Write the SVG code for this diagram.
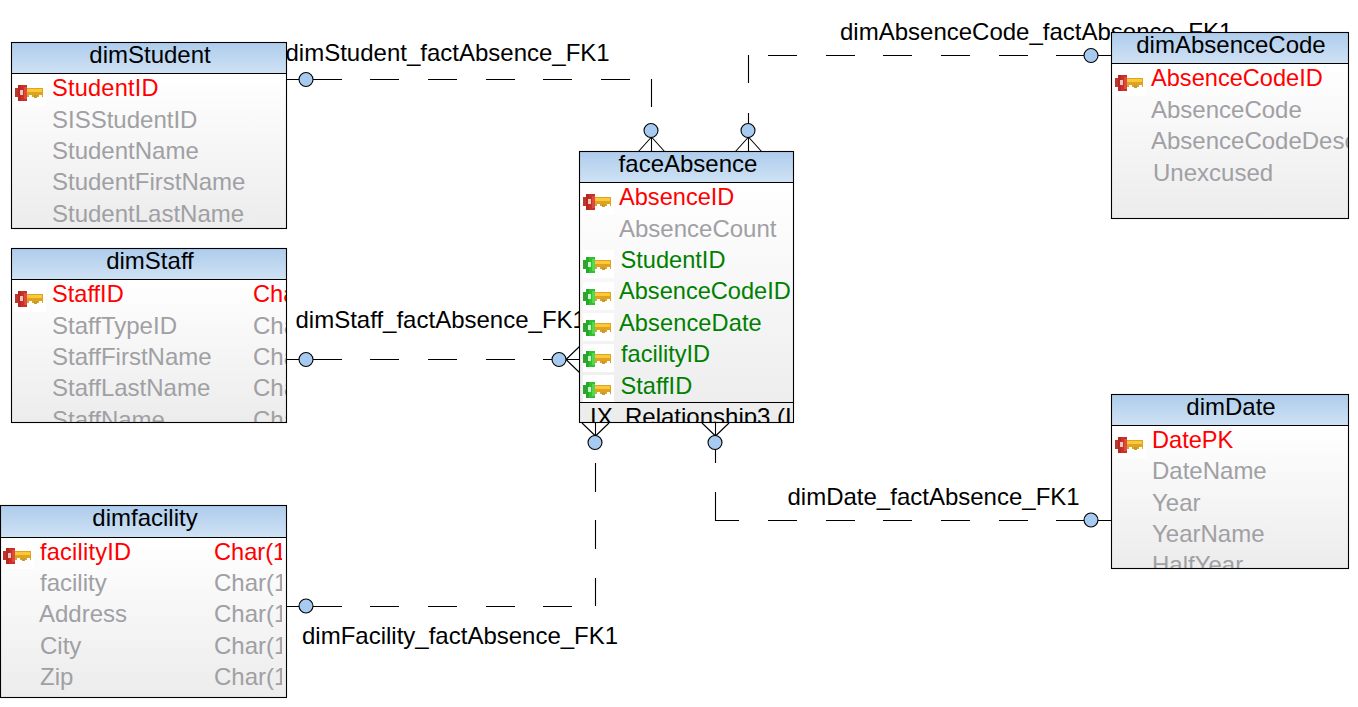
<svg xmlns="http://www.w3.org/2000/svg" width="1358" height="707" viewBox="0 0 1358 707">
<style>
text{font-family:"Liberation Sans",Arial,sans-serif;font-size:24px}
.box{fill:none;stroke:#000;stroke-width:1.1}
.sep{stroke:#000;stroke-width:1.1;fill:none}
.head{fill:url(#hg)}
.body{fill:url(#bg)}
.t{text-anchor:middle;fill:#000}
.pk{fill:#ff0000;font-size:23.6px}
.f{fill:#a0a0a4}
.fk{fill:#008000;font-size:23.6px}
.lbl{fill:#000}
.ln{stroke:#000;stroke-width:1.1;fill:none}
.dot{fill:#a6caf0;stroke:#000;stroke-width:1.1}
</style>
<defs>
<linearGradient id="hg" x1="0" y1="0" x2="0" y2="1"><stop offset="0" stop-color="#adccec"/><stop offset="1" stop-color="#d0e2f4"/></linearGradient>
<linearGradient id="bg" x1="0" y1="0" x2="0" y2="1"><stop offset="0" stop-color="#ffffff"/><stop offset="1" stop-color="#ececec"/></linearGradient>
<g id="shaft" shape-rendering="crispEdges">
<rect x="11" y="10" width="17" height="9" fill="#dca420"/><rect x="12" y="11" width="15" height="3" fill="#fcc838"/><rect x="14" y="17" width="3" height="2" fill="#fff"/><rect x="19" y="17" width="3" height="3" fill="#c89a30"/><rect x="24" y="17" width="3" height="2" fill="#fff"/>
</g>
<symbol id="keyR" width="31" height="28" viewBox="0 0 31 28" overflow="visible">
<rect width="31" height="28" fill="#fff"/><use href="#shaft"/>
<g shape-rendering="crispEdges"><rect x="0" y="10" width="3" height="9" fill="#b83830"/><rect x="3" y="7" width="3" height="16" fill="#b82820"/><rect x="6" y="7" width="6" height="16" fill="#c83028"/><rect x="5" y="12" width="3" height="5" fill="#e8c8c0"/><rect x="9" y="9" width="3" height="12" fill="#e04840"/></g>
</symbol>
<symbol id="keyG" width="31" height="28" viewBox="0 0 31 28" overflow="visible">
<rect width="31" height="28" fill="#fff"/><use href="#shaft"/>
<g shape-rendering="crispEdges"><rect x="0" y="10" width="3" height="9" fill="#30a030"/><rect x="3" y="7" width="3" height="16" fill="#28a828"/><rect x="6" y="7" width="6" height="16" fill="#30c030"/><rect x="5" y="12" width="3" height="5" fill="#d0f0d0"/><rect x="9" y="9" width="3" height="12" fill="#50d850"/></g>
</symbol>
<clipPath id="cStudent"><rect x="12" y="74" width="274" height="154"/></clipPath>
<clipPath id="cStaff"><rect x="12" y="280" width="274" height="142"/></clipPath>
<clipPath id="cFac"><rect x="1" y="538" width="281" height="159"/></clipPath>
<clipPath id="cFace"><rect x="580" y="183" width="213" height="239"/></clipPath>
<clipPath id="cCode"><rect x="1112" y="65" width="236" height="153"/></clipPath>
<clipPath id="cDate"><rect x="1112" y="426" width="236" height="142"/></clipPath>
</defs>
<rect width="1358" height="707" fill="#fff"/>
<g id="connectors">
<path class="ln" d="M287 79.5H342M370 79.5H399M428 79.5H457M486 79.5H515M543 79.5H572M601 79.5H630M651.5 79V107M651.5 124V152M651.5 137L638 152M651.5 137L665 152"/>
<circle class="dot" cx="306" cy="79.5" r="7"/><circle class="dot" cx="651" cy="130.5" r="7"/>
<path class="ln" d="M1112 55.5H1056M1028 55.5H999M970 55.5H941M912 55.5H883M855 55.5H826M797 55.5H768M748.5 55V83M748.5 113V152M748.5 137L735 152M748.5 137L762 152"/>
<circle class="dot" cx="1091" cy="55.5" r="7"/><circle class="dot" cx="748" cy="130.5" r="7"/>
<path class="ln" d="M287 359.5H342M370 359.5H399M428 359.5H457M486 359.5H515M543 359.5H580M566 359.5L580 346M566 359.5L580 373"/>
<circle class="dot" cx="306" cy="359.5" r="7"/><circle class="dot" cx="559" cy="359.5" r="7"/>
<path class="ln" d="M287 606.5H342M370 606.5H399M428 606.5H457M486 606.5H515M543 606.5H572M595.5 606V578M595.5 549V520M595.5 492V463M595.5 423V436M595.5 436L582 423M595.5 436L609 423"/>
<circle class="dot" cx="306" cy="606" r="7"/><circle class="dot" cx="595" cy="442.5" r="7"/>
<path class="ln" d="M715.5 423V463M715.5 492V520.5H739M768 520.5H797M826 520.5H855M883 520.5H912M941 520.5H970M999 520.5H1028M1056 520.5H1112M715.5 436L702 423M715.5 436L729 423"/>
<circle class="dot" cx="1091" cy="520" r="7"/><circle class="dot" cx="715" cy="442.5" r="7"/>
<text class="lbl" x="285.5" y="61">dimStudent_factAbsence_FK1</text>
<text class="lbl" x="840" y="40">dimAbsenceCode_factAbsence_FK1</text>
<text class="lbl" x="295.5" y="328">dimStaff_factAbsence_FK1</text>
<text class="lbl" x="302" y="644">dimFacility_factAbsence_FK1</text>
<text class="lbl" x="787.5" y="505">dimDate_factAbsence_FK1</text>
</g>
<g id="dimStudent">
<rect class="body" x="11.5" y="73.5" width="275" height="155"/>
<rect class="head" x="11.5" y="42.5" width="275" height="31"/>
<use href="#keyR" x="15" y="78"/>
<g clip-path="url(#cStudent)">
<text class="pk" x="52" y="96" letter-spacing="0.2">StudentID</text>
<text class="f" x="52" y="128">SISStudentID</text>
<text class="f" x="52" y="159">StudentName</text>
<text class="f" x="52" y="190">StudentFirstName</text>
<text class="f" x="52" y="222">StudentLastName</text>
</g>
<text class="t" x="150" y="63">dimStudent</text>
<path class="sep" d="M11.5 73.5H286.5"/><rect class="box" x="11.5" y="42.5" width="275" height="186"/>
</g>
<g id="dimStaff">
<rect class="body" x="11.5" y="279.5" width="275" height="143"/>
<rect class="head" x="11.5" y="248.5" width="275" height="31"/>
<use href="#keyR" x="15" y="284"/>
<g clip-path="url(#cStaff)">
<text class="pk" x="52" y="302">StaffID</text><text class="pk" x="253" y="302">Char</text>
<text class="f" x="52" y="334">StaffTypeID</text><text class="f" x="253" y="334">Char</text>
<text class="f" x="52" y="365">StaffFirstName</text><text class="f" x="253" y="365">Char</text>
<text class="f" x="52" y="396">StaffLastName</text><text class="f" x="253" y="396">Char</text>
<text class="f" x="52" y="428">StaffName</text><text class="f" x="253" y="428">Char</text>
</g>
<text class="t" x="150" y="269">dimStaff</text>
<path class="sep" d="M11.5 279.5H286.5"/><rect class="box" x="11.5" y="248.5" width="275" height="174"/>
</g>
<g id="dimfacility">
<rect class="body" x="0.5" y="537.5" width="286" height="160"/>
<rect class="head" x="0.5" y="505.5" width="286" height="32"/>
<use href="#keyR" x="3" y="541"/>
<g clip-path="url(#cFac)">
<text class="pk" x="40" y="560" letter-spacing="0.2">facilityID</text><text class="pk" x="214" y="560">Char(10)</text>
<text class="f" x="40" y="591">facility</text><text class="f" x="214" y="591">Char(10)</text>
<text class="f" x="39" y="622">Address</text><text class="f" x="214" y="622">Char(10)</text>
<text class="f" x="40" y="654">City</text><text class="f" x="214" y="654">Char(10)</text>
<text class="f" x="40" y="685">Zip</text><text class="f" x="214" y="685">Char(10)</text>
</g>
<text class="t" x="145" y="526">dimfacility</text>
<path class="sep" d="M0.5 537.5H286.5"/><rect class="box" x="0.5" y="505.5" width="286" height="192"/>
</g>
<g id="faceAbsence">
<rect class="body" x="579.5" y="182.5" width="214" height="240"/>
<rect class="head" x="579.5" y="151.5" width="214" height="31"/>
<use href="#keyR" x="583" y="187"/>
<use href="#keyG" x="583" y="250"/>
<use href="#keyG" x="583" y="282"/>
<use href="#keyG" x="583" y="313"/>
<use href="#keyG" x="583" y="344"/>
<use href="#keyG" x="583" y="375"/>
<g clip-path="url(#cFace)">
<text class="pk" x="619" y="205">AbsenceID</text>
<text class="f" x="619" y="237">AbsenceCount</text>
<text class="fk" x="620.5" y="268">StudentID</text>
<text class="fk" x="619" y="299">AbsenceCodeID</text>
<text class="fk" x="619" y="331" letter-spacing="0.1">AbsenceDate</text>
<text class="fk" x="621" y="362">facilityID</text>
<text class="fk" x="620.5" y="394">StaffID</text>
<text class="lbl" x="590" y="425">IX<tspan x="625">Relationship3 (I</tspan></text>
</g>
<text class="t" x="688" y="172">faceAbsence</text>
<path class="sep" d="M579.5 182.5H793.5M579.5 402.5H793.5"/><rect class="box" x="579.5" y="151.5" width="214" height="271"/>
</g>
<g id="dimAbsenceCode">
<rect class="body" x="1111.5" y="63.5" width="237" height="155"/>
<rect class="head" x="1111.5" y="32.5" width="237" height="31"/>
<use href="#keyR" x="1115" y="68"/>
<g clip-path="url(#cCode)">
<text class="pk" x="1151" y="86">AbsenceCodeID</text>
<text class="f" x="1151" y="118">AbsenceCode</text>
<text class="f" x="1151" y="149">AbsenceCodeDesc</text>
<text class="f" x="1153" y="181">Unexcused</text>
</g>
<text class="t" x="1231" y="53">dimAbsenceCode</text>
<path class="sep" d="M1111.5 63.5H1348.5"/><rect class="box" x="1111.5" y="32.5" width="237" height="186"/>
</g>
<g id="dimDate">
<rect class="body" x="1111.5" y="425.5" width="237" height="143"/>
<rect class="head" x="1111.5" y="394.5" width="237" height="31"/>
<use href="#keyR" x="1115" y="430"/>
<g clip-path="url(#cDate)">
<text class="pk" x="1152" y="448">DatePK</text>
<text class="f" x="1152" y="479">DateName</text>
<text class="f" x="1152" y="511">Year</text>
<text class="f" x="1152" y="542">YearName</text>
<text class="f" x="1152" y="573">HalfYear</text>
</g>
<text class="t" x="1231" y="415">dimDate</text>
<path class="sep" d="M1111.5 425.5H1348.5"/><rect class="box" x="1111.5" y="394.5" width="237" height="174"/>
</g>
</svg>
